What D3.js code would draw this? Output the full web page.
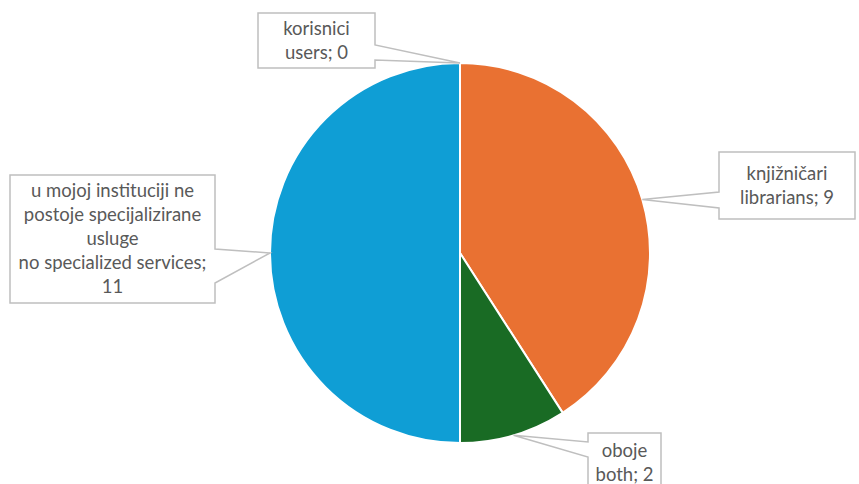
<!DOCTYPE html>
<html>
<head>
<meta charset="utf-8">
<script src="https://cdn.jsdelivr.net/npm/d3@7"></script>
<style>
  body { margin: 0; background: #fff; }
  text { font-family: Lato, "Liberation Sans", sans-serif; fill: #595959; }
</style>
</head>
<body>
<div id="chart"></div>
<script>
// data
var categories = ["korisnici\nusers", "knjižničari\nlibrarians", "oboje\nboth", "u mojoj instituciji ne\npostoje specijalizirane\nusluge\nno specialized services;"];
var values = [0, 9, 2, 11];
var colors = ["#156082", "#E97132", "#196B24", "#0F9ED5"];

var svgWidth = 859;
var svgHeight = 484;

var cx = 460, cy = 253, radius = 190;

// callout boxes, placed by hand like in the original
var boxes = [
  { x: 258, y: 13, w: 117, h: 55, side: "right", p1: 45, p2: 60 },
  { x: 719, y: 152, w: 136, h: 67, side: "left", p1: 192, p2: 208 },
  { x: 588, y: 433, w: 73, h: 59, side: "left", p1: 442, p2: 457 },
  { x: 10, y: 175, w: 205, h: 128, side: "right", p1: 249, p2: 283 }
];

var svg = d3.select("#chart")
  .append("svg")
  .attr("width", svgWidth)
  .attr("height", svgHeight);

var pieGroup = svg.append("g")
  .attr("transform", `translate(${cx}, ${cy})`);

var pie = d3.pie().sort(null).value(d => d);
var arcs = pie(values);

var arc = d3.arc().innerRadius(0).outerRadius(radius);
var edgeArc = d3.arc().innerRadius(radius).outerRadius(radius);

pieGroup.selectAll("path")
  .data(arcs)
  .enter()
  .append("path")
  .attr("d", arc)
  .attr("fill", (d, i) => colors[i])
  .attr("stroke", "#fff")
  .attr("stroke-width", 2)
  .attr("stroke-linejoin", "round");

// wedge callouts
function calloutPath(b, tip) {
  var x0 = b.x, y0 = b.y, x1 = b.x + b.w, y1 = b.y + b.h;
  if (b.side === "right") {
    return `M${x0},${y0}L${x1},${y0}L${x1},${b.p1}L${tip[0]},${tip[1]}L${x1},${b.p2}L${x1},${y1}L${x0},${y1}Z`;
  }
  return `M${x0},${y0}L${x1},${y0}L${x1},${y1}L${x0},${y1}L${x0},${b.p2}L${tip[0]},${tip[1]}L${x0},${b.p1}Z`;
}

var labelGroup = svg.append("g");

arcs.forEach(function(d, i) {
  var c = edgeArc.centroid(d);
  var tip = [cx + c[0], cy + c[1]];
  var b = boxes[i];

  labelGroup.append("path")
    .attr("d", calloutPath(b, tip))
    .attr("fill", "#fff")
    .attr("stroke", "#bfbfbf")
    .attr("stroke-width", 1.5);

  var lines = categories[i].split("\n");
  var last = lines.length - 1;
  if (lines[last].endsWith(";")) {
    lines.push(String(values[i]));
  } else {
    lines[last] = lines[last] + "; " + values[i];
  }

  var lineH = 24;
  var midY = b.y + b.h / 2;
  var startY = midY - (lines.length - 1) * lineH / 2;

  var t = labelGroup.append("text")
    .attr("text-anchor", "middle")
    .attr("font-size", "18.5px");

  lines.forEach(function(line, j) {
    t.append("tspan")
      .attr("x", b.x + b.w / 2)
      .attr("y", startY + j * lineH)
      .attr("dy", "0.35em")
      .text(line);
  });
});
</script>
</body>
</html>
